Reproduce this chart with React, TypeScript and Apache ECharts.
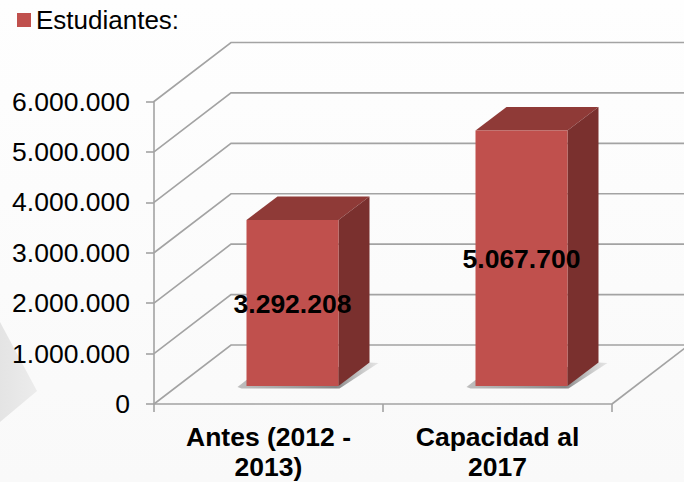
import React, { useEffect, useRef } from "react";
import * as echarts from "echarts";

const categories = ["Antes (2012 -\n2013)", "Capacidad al\n2017"];
const studentValues = [3292208, 5067700];
const valueLabels = ["3.292.208", "5.067.700"];
const axisTicks = [0, 1000000, 2000000, 3000000, 4000000, 5000000, 6000000];
const seriesName = "Estudiantes:";

const FONT = "'Liberation Sans', Arial, sans-serif";
const WALL_DX = 77;
const WALL_DY = -59;
const BAR_OFFSET_X = 24;
const BAR_OFFSET_Y = -18;
const BAR_W = 92;
const BAR_DX = 31;
const BAR_DY = -23.5;
const GRID_COLOR = "#a3a3a3";

const fmt = (v: number) => String(v).replace(/\B(?=(\d{3})+(?!\d))/g, ".");

function renderWall(params: any, api: any) {
  const v = api.value(0);
  const [, fy] = api.coord([0, v]);
  const fx = params.coordSys.x;
  const xEnd = 684;
  const children: any[] = [
    {
      type: "polyline",
      shape: { points: [[fx, fy], [fx + WALL_DX, fy + WALL_DY], [xEnd, fy + WALL_DY]] },
      style: { stroke: GRID_COLOR, lineWidth: 1.6, fill: "none" },
    },
  ];
  if (v === 0) {
    const right = params.coordSys.x + params.coordSys.width;
    children.push({
      type: "line",
      shape: { x1: right, y1: fy, x2: right + WALL_DX, y2: fy + WALL_DY },
      style: { stroke: GRID_COLOR, lineWidth: 1.6 },
    });
  }
  return { type: "group", children };
}

function renderBar(_params: any, api: any) {
  const cat = api.value(0);
  const v = api.value(1);
  const label = valueLabels[cat];
  const [cx, baseY] = api.coord([cat, 0]);
  const [, topY] = api.coord([cat, v]);
  const l = cx + BAR_OFFSET_X - BAR_W / 2;
  const r = l + BAR_W;
  const b = baseY + BAR_OFFSET_Y;
  const t = topY + BAR_OFFSET_Y;
  return {
    type: "group",
    children: [
      {
        type: "polygon",
        shape: { points: [[l, b - 6], [l - 9, b + 1], [l - 5, b + 2.5], [r + 1, b + 2.5], [r + BAR_DX + 9, b + BAR_DY + 0.5], [r + BAR_DX, b + BAR_DY]] },
        style: {
          fill: new echarts.graphic.LinearGradient(0, 0, 1, 0, [
            { offset: 0, color: "rgba(150,150,150,0.6)" },
            { offset: 0.7, color: "rgba(105,105,105,0.8)" },
            { offset: 1, color: "rgba(190,190,190,0.35)" },
          ]),
        },
      },
      {
        type: "polygon",
        shape: { points: [[l, t], [l + BAR_DX, t + BAR_DY], [r + BAR_DX, t + BAR_DY], [r, t]] },
        style: { fill: "#8F3A37" },
      },
      {
        type: "polygon",
        shape: { points: [[r, t], [r + BAR_DX, t + BAR_DY], [r + BAR_DX, b + BAR_DY], [r, b]] },
        style: { fill: "#7A302E" },
      },
      {
        type: "rect",
        shape: { x: l, y: t, width: BAR_W, height: b - t },
        style: { fill: "#C0504D" },
      },
      {
        type: "text",
        x: l + BAR_W / 2,
        y: (t + b) / 2 + 1,
        style: {
          text: label,
          align: "center",
          verticalAlign: "middle",
          fill: "#000",
          font: `bold 26.5px ${FONT}`,
        },
      },
    ],
  };
}

export default function App() {
  const ref = useRef<HTMLDivElement>(null);
  useEffect(() => {
    const chart = echarts.init(ref.current!, null, { renderer: "svg" });
    chart.setOption({
      animation: false,
      backgroundColor: new echarts.graphic.LinearGradient(0, 0, 0, 1, [
        { offset: 0, color: "#fefefe" },
        { offset: 1, color: "#f9f9f9" },
      ]),
      textStyle: { fontFamily: FONT },
      graphic: {
        elements: [
          {
            type: "polygon",
            z: -10,
            silent: true,
            shape: { points: [[0, 322], [37, 391], [0, 422]] },
            style: {
              fill: new echarts.graphic.LinearGradient(0, 0, 1, 0, [
                { offset: 0, color: "#e4e4e4" },
                { offset: 1, color: "#ececec" },
              ]),
            },
          },
        ],
      },
      legend: {
        left: 12,
        top: 2,
        icon: "rect",
        itemWidth: 14,
        itemHeight: 14,
        data: [seriesName],
        itemStyle: { color: "#C0504D" },
        textStyle: { color: "#000", fontSize: 26, fontFamily: FONT },
      },
      grid: { left: 154, right: 72, top: 101.5, bottom: 77.5, containLabel: false },
      xAxis: {
        type: "category",
        data: categories,
        boundaryGap: true,
        axisLine: { lineStyle: { color: GRID_COLOR, width: 1.6 } },
        axisTick: { show: true, length: 8, alignWithLabel: false, lineStyle: { color: GRID_COLOR, width: 1.6 } },
        axisLabel: { color: "#000", fontWeight: "bold", fontSize: 26.5, lineHeight: 30, margin: 18, fontFamily: FONT },
      },
      yAxis: {
        type: "value",
        min: 0,
        max: 6000000,
        interval: 1000000,
        axisLine: { show: true, lineStyle: { color: GRID_COLOR, width: 1.6 } },
        axisTick: { show: true, length: 8, lineStyle: { color: GRID_COLOR, width: 1.6 } },
        splitLine: { show: false },
        axisLabel: { color: "#000", fontSize: 26.5, margin: 24, padding: [2, 0, 0, 0], fontFamily: FONT, formatter: (v: number) => fmt(v) },
      },
      series: [
        {
          type: "custom",
          name: "walls",
          coordinateSystem: "cartesian2d",
          renderItem: renderWall,
          encode: { y: 0 },
          clip: false,
          silent: true,
          z: 1,
          data: axisTicks.map((t) => [t]),
        },
        {
          type: "custom",
          name: seriesName,
          coordinateSystem: "cartesian2d",
          renderItem: renderBar,
          encode: { x: 0, y: 1 },
          clip: false,
          itemStyle: { color: "#C0504D" },
          z: 2,
          data: studentValues.map((v, i) => [i, v]),
        },
      ],
    });
    return () => chart.dispose();
  }, []);
  return <div ref={ref} style={{ width: 684, height: 482, position: "fixed", left: 0, top: 0 }} />;
}
